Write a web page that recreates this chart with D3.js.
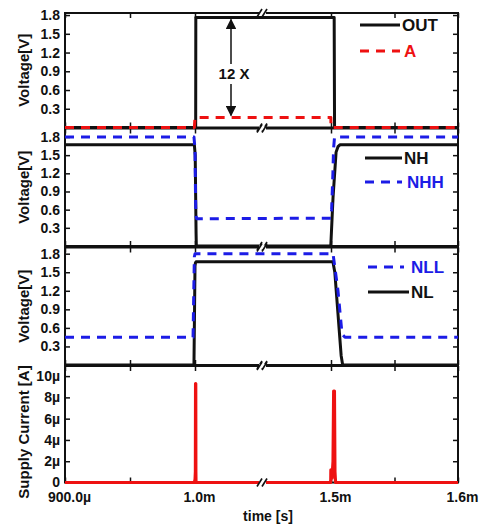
<!DOCTYPE html>
<html><head><meta charset="utf-8">
<script src="https://cdn.jsdelivr.net/npm/d3@7"></script>
<style>body{margin:0;background:#fff}svg{display:block;font-family:"Liberation Sans",Arial,sans-serif;font-weight:bold}</style>
</head><body>
<svg id="c" width="489" height="525"></svg>
<script>
// ---- data (time in seconds) ----
const xTickValues = [0.9e-3, 1.0e-3, 1.5e-3, 1.6e-3];
const xTickLabels = ["900.0\u00b5", "1.0m", "1.5m", "1.6m"];
const xMinorTicks = [0.95e-3, 1.55e-3];
const vTickValues = [0.3, 0.6, 0.9, 1.2, 1.5, 1.8];
const vTickLabels = ["0.3", "0.6", "0.9", "1.2", "1.5", "1.8"];
const iTickValues = [0, 2e-6, 4e-6, 6e-6, 8e-6, 10e-6];
const iTickLabels = ["0", "2\u00b5", "4\u00b5", "6\u00b5", "8\u00b5", "10\u00b5"];

const outT = [0.9e-3, 1.0025e-3, 1.003e-3, 1.5025e-3, 1.5028e-3, 1.6e-3];
const outV = [0, 0, 1.76, 1.76, 0, 0];
const aT = [0.9e-3, 0.9995e-3, 1.0e-3, 1.4995e-3, 1.4998e-3, 1.6e-3];
const aV = [0, 0, 0.16, 0.16, 0, 0];

const nhT = [0.9e-3, 0.9995e-3, 1.0008e-3, 1.004e-3, 1.0048e-3, 1.4992e-3, 1.5016e-3, 1.504e-3, 1.5055e-3, 1.507e-3, 1.6e-3];
const nhV = [1.67, 1.67, 1.5, 0.2, 0, 0, 0.8, 1.55, 1.64, 1.67, 1.67];
const nhhT = [0.9e-3, 0.9992e-3, 1.0e-3, 1.001e-3, 1.002e-3, 1.003e-3, 1.0045e-3, 1.006e-3, 1.5e-3, 1.5005e-3, 1.5015e-3, 1.502e-3, 1.5028e-3, 1.6e-3];
const nhhV = [1.8, 1.8, 1.6, 1.2, 0.8, 0.6, 0.48, 0.45, 0.46, 0.6, 1.2, 1.6, 1.8, 1.8];

const nlT = [0.9e-3, 0.9992e-3, 1.0e-3, 1.0015e-3, 1.004e-3, 1.5015e-3, 1.503e-3, 1.508e-3, 1.5092e-3, 1.6e-3];
const nlV = [0, 0, 1.6, 1.65, 1.67, 1.67, 1.5, 0.15, 0, 0];
const nllT = [0.9e-3, 0.9985e-3, 0.9995e-3, 1.0003e-3, 1.5016e-3, 1.5055e-3, 1.5087e-3, 1.511e-3, 1.6e-3];
const nllV = [0.45, 0.45, 1.75, 1.8, 1.8, 1.2, 0.5, 0.45, 0.45];

const curT = [0.9e-3, 0.9995e-3, 1.0003e-3, 1.0008e-3, 1.0015e-3, 1.0021e-3, 1.0027e-3, 1.0031e-3, 1.0035e-3, 1.0042e-3,
              1.4985e-3, 1.4992e-3, 1.4996e-3, 1.5e-3, 1.5008e-3, 1.5016e-3, 1.5021e-3, 1.5027e-3, 1.5031e-3, 1.5036e-3, 1.6e-3];
const curI = [0, 0, 0.3e-6, 0.6e-6, 1.0e-6, 9.3e-6, 9.3e-6, 1.0e-6, 0.2e-6, 0,
              0, 0.3e-6, 1.2e-6, 1.2e-6, 0.4e-6, 2e-6, 8.6e-6, 8.6e-6, 1.0e-6, 0, 0];

// ---- layout ----
const RED = "#ee1111", BLUE = "#1c1ce6";
const L = 65, R = 458;
const panels = [
  {top: 13, bottom: 127.5, max: 1.833},
  {top: 128.5, bottom: 246, max: 1.94},
  {top: 247.5, bottom: 365, max: 1.9},
  {top: 366, bottom: 482.5, max: 10.95e-6}
];
const svg = d3.select("#c");
const x = d3.scaleLinear().domain(xTickValues).range([L, 195, 331, R]);
const breakX = x(1.25e-3);

panels.forEach(p => { p.y = d3.scaleLinear().domain([0, p.max]).range([p.bottom, p.top]); });

function frame(p, isCurrent, showXLabels) {
  const g = svg.append("g");
  const tv = isCurrent ? iTickValues : vTickValues;
  const tl = isCurrent ? iTickLabels : vTickLabels;
  const la = g.append("g").attr("transform", `translate(${L},0)`)
    .call(d3.axisLeft(p.y).tickValues(tv).tickFormat((d, i) => tl[i]).tickSize(-5).tickPadding(5));
  la.select(".domain").remove();
  la.selectAll("text").attr("font-size", 14).attr("font-weight", "bold").attr("fill", "#111");
  const ra = g.append("g").attr("transform", `translate(${R},0)`)
    .call(d3.axisRight(p.y).tickValues(tv).tickFormat("").tickSize(-5));
  ra.select(".domain").remove();
  const allX = xTickValues.concat(xMinorTicks);
  const ba = g.append("g").attr("transform", `translate(0,${p.bottom})`)
    .call(d3.axisBottom(x).tickValues(showXLabels ? xTickValues : allX)
      .tickFormat((d, i) => showXLabels ? xTickLabels[i] : "").tickSize(-5).tickPadding(10));
  ba.select(".domain").remove();
  ba.selectAll("text").attr("font-size", 14).attr("font-weight", "bold").attr("fill", "#111").attr("dx", 4);
  if (showXLabels) {
    g.append("g").attr("transform", `translate(0,${p.bottom})`)
      .call(d3.axisBottom(x).tickValues(xMinorTicks).tickFormat("").tickSize(-5)).select(".domain").remove();
  }
  const ta = g.append("g").attr("transform", `translate(0,${p.top})`)
    .call(d3.axisTop(x).tickValues(allX).tickFormat("").tickSize(-5));
  ta.select(".domain").remove();
  g.selectAll(".tick line").attr("stroke", "#111").attr("stroke-width", 1.5);
  g.append("rect").attr("x", L).attr("y", p.top).attr("width", R - L).attr("height", p.bottom - p.top)
    .attr("fill", "none").attr("stroke", "#111").attr("stroke-width", 2);
}

function breaks(p) {
  [p.top, p.bottom].forEach(yy => {
    svg.append("rect").attr("x", breakX - 4).attr("y", yy - 2).attr("width", 7).attr("height", 4).attr("fill", "#fff");
    [-4, 1].forEach(dx => {
      svg.append("line").attr("x1", breakX + dx - 2).attr("y1", yy + 4).attr("x2", breakX + dx + 3).attr("y2", yy - 4)
        .attr("stroke", "#111").attr("stroke-width", 1.6);
    });
  });
}

function series(p, T, V, color, dashed, width) {
  const line = d3.line().x((d, i) => x(T[i])).y((d, i) => p.y(V[i]));
  svg.append("path").datum(V).attr("d", line).attr("fill", "none").attr("stroke", color)
    .attr("stroke-width", width || 3).attr("stroke-dasharray", dashed ? "9,7" : null)
    .attr("stroke-linejoin", "round");
}

function legendItem(x1, x2, y, label, color, dashed, tx) {
  svg.append("line").attr("x1", x1).attr("x2", x2).attr("y1", y).attr("y2", y)
    .attr("stroke", color).attr("stroke-width", 3).attr("stroke-dasharray", dashed ? "9,7" : null);
  svg.append("text").attr("x", tx).attr("y", y + 6).attr("font-size", 17).attr("fill", color).text(label);
}

// frames
panels.forEach((p, i) => frame(p, i === 3, i === 3));

// series
series(panels[0], outT, outV, "#111", false);
series(panels[0], aT, aV, RED, true);
series(panels[1], nhT, nhV, "#111", false);
series(panels[1], nhhT, nhhV, BLUE, true);
series(panels[2], nlT, nlV, "#111", false);
series(panels[2], nllT, nllV, BLUE, true);
series(panels[3], curT, curI, RED, false, 3.2);

panels.forEach(breaks);

// arrow annotation (12 X)
const ax = 231;
const p0 = panels[0];
const defs = svg.append("defs");
defs.append("marker").attr("id", "ah").attr("viewBox", "0 0 10 10").attr("refX", 9).attr("refY", 5)
  .attr("markerWidth", 7).attr("markerHeight", 7).attr("orient", "auto-start-reverse")
  .append("path").attr("d", "M0,0 L10,5 L0,10 z").attr("fill", "#111");
svg.append("line").attr("x1", ax).attr("x2", ax).attr("y1", 64).attr("y2", p0.y(1.76) + 2)
  .attr("stroke", "#111").attr("stroke-width", 1.5).attr("marker-end", "url(#ah)");
svg.append("line").attr("x1", ax).attr("x2", ax).attr("y1", 84).attr("y2", p0.y(0.16) - 2)
  .attr("stroke", "#111").attr("stroke-width", 1.5).attr("marker-end", "url(#ah)");
svg.append("text").attr("x", 234).attr("y", 79).attr("text-anchor", "middle").attr("font-size", 15)
  .attr("fill", "#111").text("12 X");

// legends
legendItem(360, 400, 25, "OUT", "#111", false, 402);
legendItem(360, 400, 51, "A", RED, true, 404);
legendItem(365, 402, 158, "NH", "#111", false, 404);
legendItem(365, 402, 182, "NHH", BLUE, true, 407);
legendItem(368, 404, 267, "NLL", BLUE, true, 411);
legendItem(368, 409, 292, "NL", "#111", false, 411);

// axis titles
const yTitles = [["Voltage[V]", 0], ["Voltage[V]", 1], ["Voltage[V]", 2], ["Supply Current [A]", 3]];
yTitles.forEach(([t, i]) => {
  const p = panels[i];
  const cy = i === 3 ? 432 : (p.top + p.bottom) / 2;
  svg.append("text").attr("transform", `translate(29,${cy}) rotate(-90)`).attr("text-anchor", "middle")
    .attr("font-size", 15).attr("fill", "#111").text(t);
});
svg.append("text").attr("x", 268).attr("y", 521).attr("text-anchor", "middle").attr("font-size", 14)
  .attr("fill", "#111").text("time [s]");
</script>
</body></html>
